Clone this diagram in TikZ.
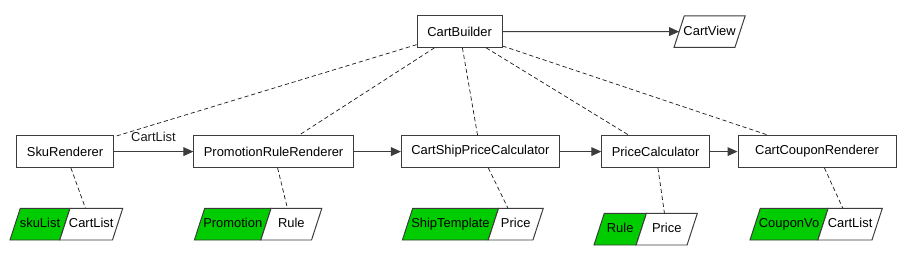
\documentclass[tikz,border=0pt]{standalone}
\usepackage{fontspec}
\setmainfont{Liberation Sans}
\usetikzlibrary{arrows.meta,positioning,shapes.geometric}
\definecolor{ink}{HTML}{1A1A1A}
\definecolor{boxline}{HTML}{3C3C3C}
\definecolor{fieldgreen}{HTML}{00CC00}
\tikzset{
  stage/.style={draw=boxline,fill=white,line width=0.7pt,minimum height=0.79cm,
                inner xsep=0.25cm,font=\fontsize{9.2pt}{11pt}\selectfont},
  field/.style={trapezium,trapezium left angle=72,trapezium right angle=108,
                trapezium stretches body=true,draw=boxline,line width=0.7pt,
                text height=0.25cm,text depth=0.07cm,
                inner xsep=-1pt,inner ysep=0.235cm,outer sep=0pt,
                font=\fontsize{9.2pt}{11pt}\selectfont},
  keyfield/.style={field,fill=fieldgreen},
  valfield/.style={field,fill=white},
  flowarr/.style={-{Triangle[length=2.5mm,width=2.2mm]},line width=0.7pt,
                  draw=boxline},
  flowlabel/.style={font=\fontsize{9.2pt}{11pt}\selectfont,text=ink},
  uselink/.style={draw=ink,line width=0.5pt,dash pattern=on 3pt off 2pt}
}
\begin{document}
\begin{tikzpicture}[x=1cm,y=1cm]
    \path[use as bounding box] (0,0) rectangle (22.65,-6.325);

    \node[stage,minimum width=2.125cm] (builder) at (11.49,-0.79) {CartBuilder};
    \node[valfield,minimum width=1.78cm] (view) at (17.74,-0.79) {CartView};

    \node[stage,minimum width=2.40cm] (sku) at (1.625,-3.79) {SkuRenderer};
    \node[stage,minimum width=3.975cm] (promo) at (6.84,-3.79) {PromotionRuleRenderer};
    \node[stage,minimum width=3.925cm] (ship) at (12.01,-3.79) {CartShipPriceCalculator};
    \node[stage,minimum width=2.675cm] (price) at (16.39,-3.79) {PriceCalculator};
    \node[stage,minimum width=3.95cm] (coupon) at (20.425,-3.79) {CartCouponRenderer};

    \node[keyfield,minimum width=1.50cm,anchor=bottom left corner]
      (skuK) at (0.25,-6.0) {skuList};
    \node[valfield,minimum width=1.575cm,anchor=bottom left corner]
      (skuV) at (skuK.bottom right corner) {CartList};
    \node[keyfield,minimum width=1.91cm,anchor=bottom left corner]
      (promoK) at (4.86,-6.0) {Promotion};
    \node[valfield,minimum width=1.525cm,anchor=bottom left corner]
      (promoV) at (promoK.bottom right corner) {Rule};
    \node[keyfield,minimum width=2.38cm,anchor=bottom left corner]
      (shipK) at (10.06,-6.0) {ShipTemplate};
    \node[valfield,minimum width=1.375cm,anchor=bottom left corner]
      (shipV) at (shipK.bottom right corner) {Price};
    \node[keyfield,minimum width=1.31cm,anchor=bottom left corner]
      (priceK) at (14.85,-6.125) {Rule};
    \node[valfield,minimum width=1.53cm,anchor=bottom left corner]
      (priceV) at (priceK.bottom right corner) {Price};
    \node[keyfield,minimum width=1.94cm,anchor=bottom left corner]
      (couponK) at (18.75,-6.0) {CouponVo};
    \node[valfield,minimum width=1.61cm,anchor=bottom left corner]
      (couponV) at (couponK.bottom right corner) {CartList};

    \draw[flowarr] (builder) -- (view);
    \draw[flowarr] (sku) -- node[flowlabel,above=3.5pt] {CartList} (promo);
    \draw[flowarr] (promo) -- (ship);
    \draw[flowarr] (ship) -- (price);
    \draw[flowarr] (price) -- (coupon);

    \draw[uselink] (builder) -- (sku);
    \draw[uselink] (builder) -- (promo);
    \draw[uselink] (builder) -- (ship);
    \draw[uselink] (builder) -- (price);
    \draw[uselink] (builder) -- (coupon);

    \draw[uselink] (sku) -- (skuV);
    \draw[uselink] (promo) -- (promoV);
    \draw[uselink] (ship) -- (shipV);
    \draw[uselink] (price) -- (priceV);
    \draw[uselink] (coupon) -- (couponV);
  \end{tikzpicture}
\end{document}
